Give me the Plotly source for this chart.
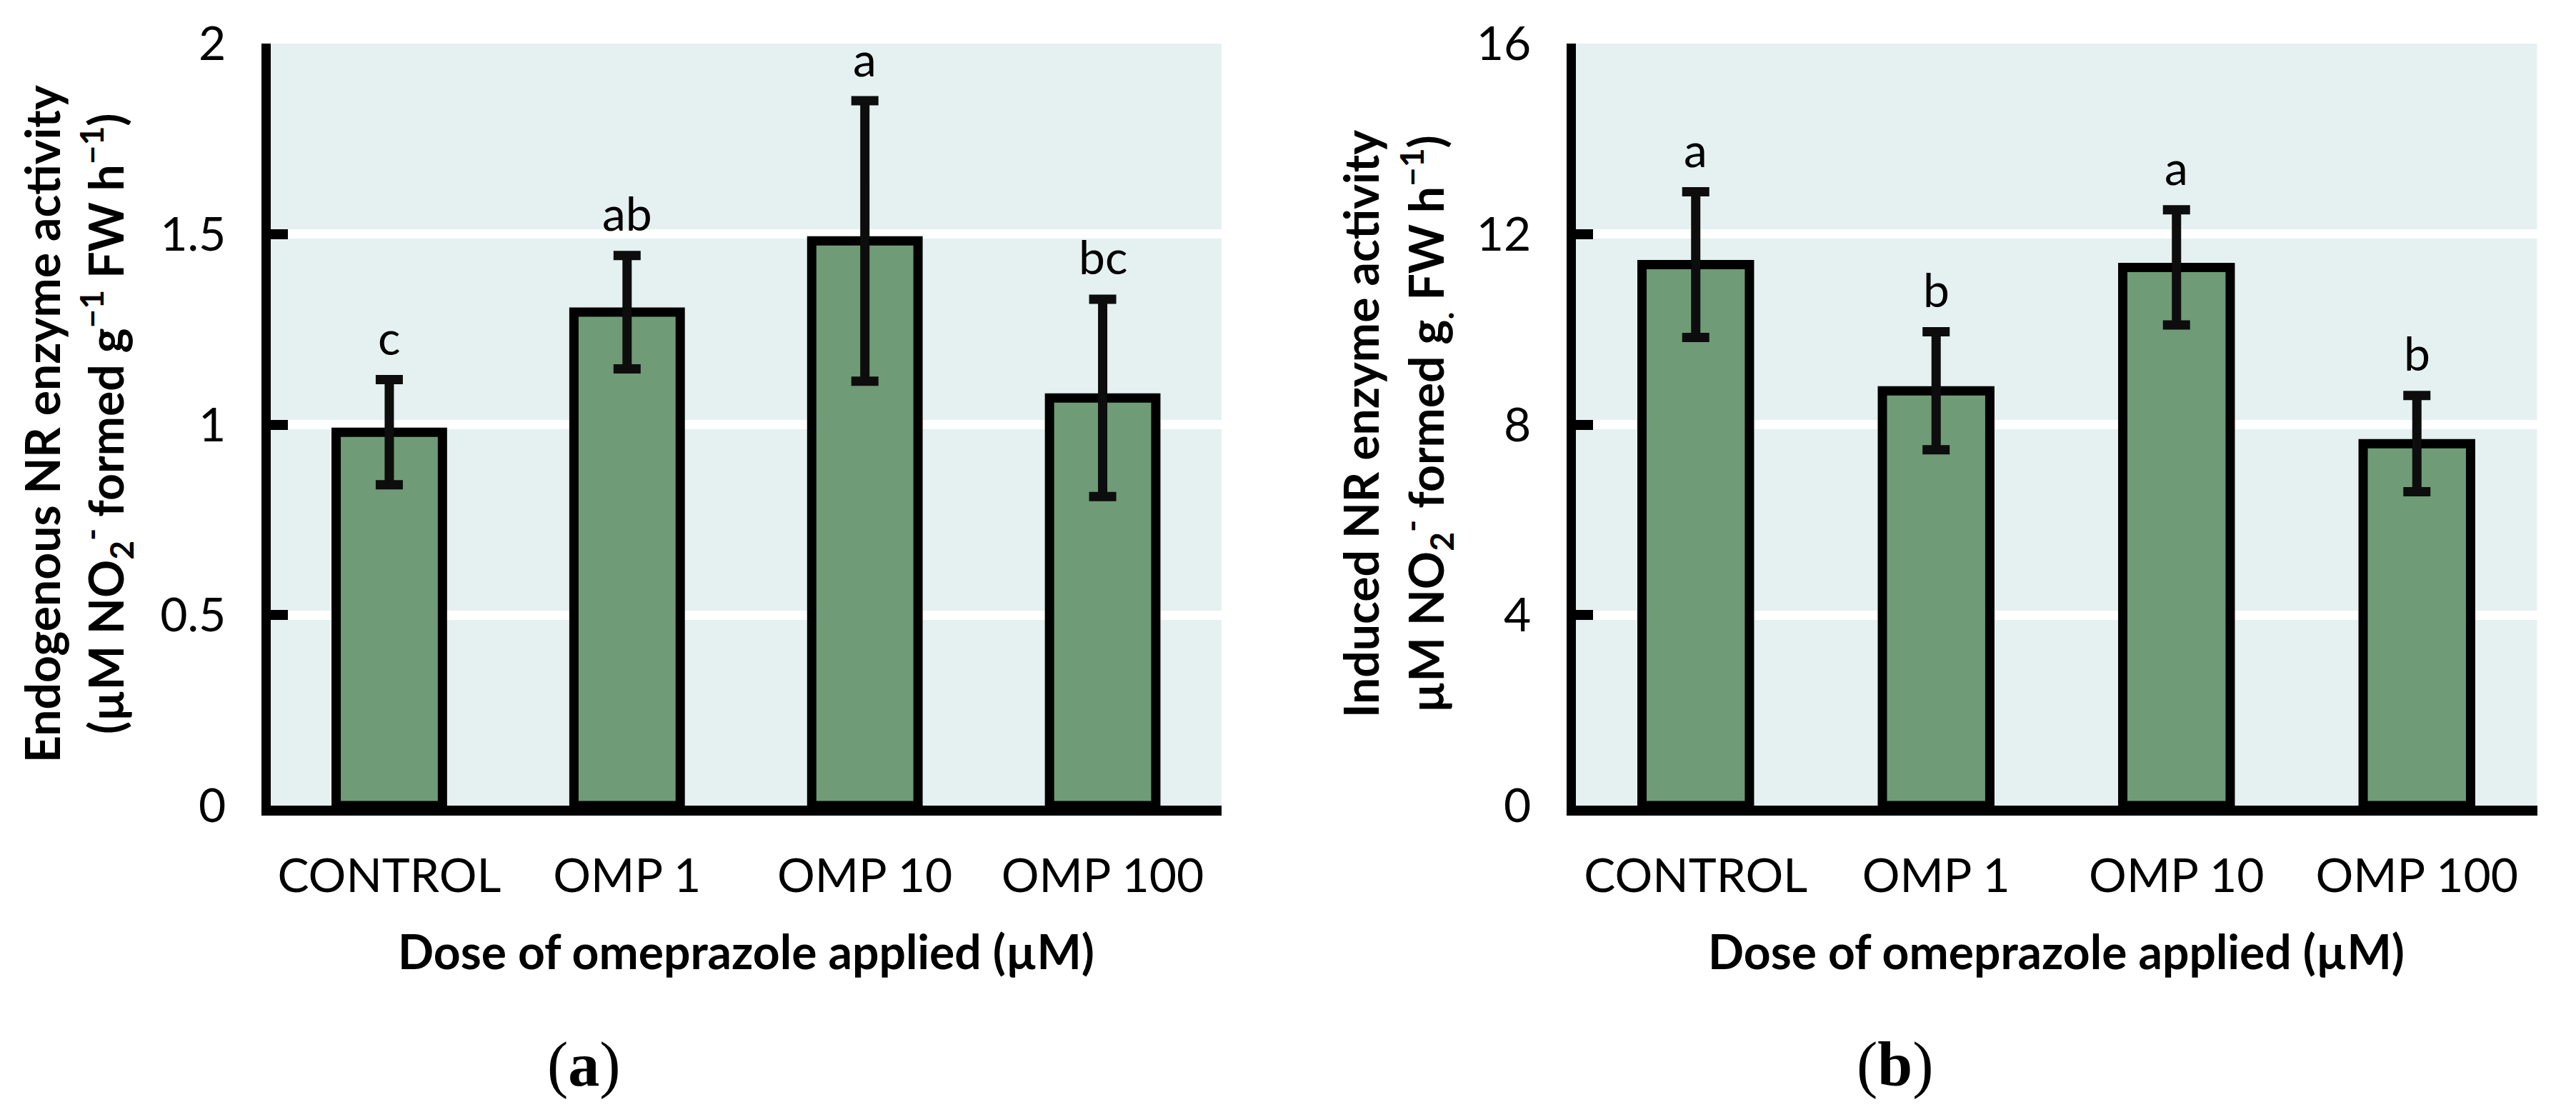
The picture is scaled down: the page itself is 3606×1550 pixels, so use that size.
import plotly.graph_objects as go

# data
doses = ["CONTROL", "OMP 1", "OMP 10", "OMP 100"]

endo_mean = [0.98, 1.295, 1.482, 1.07]
endo_err = [0.138, 0.149, 0.368, 0.259]
endo_letters = ["c", "ab", "a", "bc"]

ind_mean = [11.36, 8.71, 11.30, 7.60]
ind_err = [1.53, 1.24, 1.21, 1.01]
ind_letters = ["a", "b", "a", "b"]

# the page body keeps its default 8px margin, so the figure is shrunk by that
OFF = 8
W, H = 3606 - 2 * OFF, 1550 - 2 * OFF
BAR = "#6F9B77"
BG = "#E5F1F1"
FONT = "Lato, 'Open Sans', sans-serif"


def px(x):
    # screen x (reference pixels) -> paper
    return (x - OFF) / W


def py(y):
    # screen y (reference pixels) -> paper
    return 1 - (y - OFF) / H


fig = go.Figure()

for mean, err, xa, ya in [(endo_mean, endo_err, "x", "y"), (ind_mean, ind_err, "x2", "y2")]:
    fig.add_trace(go.Bar(
        x=doses, y=mean, xaxis=xa, yaxis=ya,
        marker=dict(color=BAR, line=dict(color="black", width=13)),
        error_y=dict(type="data", array=err, visible=True,
                     color="#0D0D0D", thickness=13, width=19),
        showlegend=False,
    ))

# significance letters
for mean, err, letters, xa, ya in [(endo_mean, endo_err, endo_letters, "x", "y"),
                                   (ind_mean, ind_err, ind_letters, "x2", "y2")]:
    for d, m, e, t in zip(doses, mean, err, letters):
        fig.add_annotation(x=d, y=m + e, xref=xa, yref=ya, text=t, showarrow=False,
                           yanchor="middle", yshift=60,
                           font=dict(family=FONT, size=66, color="black"))

axis_common = dict(showgrid=False, showline=True, linecolor="black", zeroline=False,
                   ticks="", tickfont=dict(family=FONT, size=66, color="black"),
                   ticklabelstandoff=28, automargin=False)
yaxis_common = dict(showgrid=True, gridcolor="white", gridwidth=13, zeroline=False,
                    showline=True, linecolor="black", linewidth=13,
                    ticks="inside", ticklen=24, tickwidth=14, tickcolor="black",
                    tickfont=dict(family=FONT, size=66, color="black"),
                    ticklabelstandoff=36, automargin=False)

ydom = [py(1128), py(61)]

fig.update_layout(
    width=W, height=H, autosize=False,
    margin=dict(l=0, r=0, t=0, b=0, autoexpand=False),
    paper_bgcolor="white", plot_bgcolor=BG,
    bargap=0.553,
    xaxis=dict(domain=[px(378.5), px(1710)], linewidth=14, **axis_common),
    xaxis2=dict(domain=[px(2205.5), px(3551.5)], linewidth=14, anchor="y2", **axis_common),
    yaxis=dict(domain=ydom, range=[0, 2], tickvals=[0, 0.5, 1, 1.5, 2],
               ticktext=["0", "0.5", "1", "1.5", "2"], **yaxis_common),
    yaxis2=dict(domain=ydom, range=[0, 16], tickvals=[0, 4, 8, 12, 16],
                anchor="x2", **yaxis_common),
)

bold = dict(family=FONT, size=66, color="black")

# x-axis titles
for cx in [(378.5 + 1710) / 2, (2205.5 + 3551.5) / 2]:
    fig.add_annotation(x=px(cx), y=py(1331), xref="paper", yref="paper",
                       text="<b>Dose of omeprazole applied (µM)</b>", showarrow=False,
                       xanchor="center", yanchor="middle", font=bold)

# y-axis titles (two lines each)
ytitles = [
    (58, "<b>Endogenous NR enzyme activity</b>"),
    (148, "<b>(µM NO<sub>2</sub><sup>-</sup> formed g<sup>−1</sup> FW h<sup>−1</sup>)</b>"),
    (1904, "<b>Induced NR enzyme activity</b>"),
    (1996, "<b>µM NO<sub>2</sub><sup>-</sup> formed g<sub>.</sub> FW h<sup>−1</sup>)</b>"),
]
for x, t in ytitles:
    fig.add_annotation(x=px(x), y=py(594), xref="paper", yref="paper", text=t,
                       showarrow=False, textangle=-90, xanchor="center", yanchor="middle",
                       font=bold)

# panel labels
for x, lab in [(817, "a"), (2653, "b")]:
    fig.add_annotation(x=px(x), y=py(1490), xref="paper", yref="paper",
                       text="(<b>" + lab + "</b>)", showarrow=False,
                       xanchor="center", yanchor="middle",
                       font=dict(family="'Liberation Serif', 'DejaVu Serif', serif",
                                 size=88, color="black"))

fig.write_html("out.html")
